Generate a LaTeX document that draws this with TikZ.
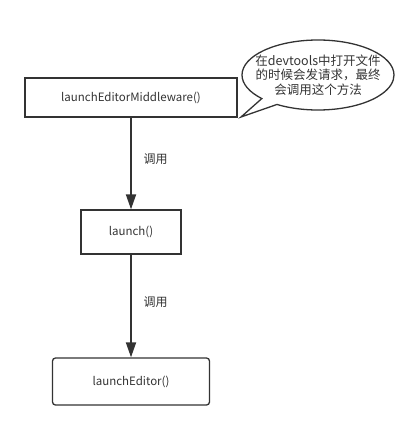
\documentclass[tikz,border=0pt]{standalone}
\usepackage{fontspec}
\setmainfont{Noto Sans CJK SC}
\usetikzlibrary{arrows.meta,shapes.callouts}
\definecolor{ink}{HTML}{333333}
\tikzset{
  box/.style={draw=ink, line width=1.3pt, text=ink, inner sep=0pt, font=\fontsize{11.5}{14}\selectfont},
  call/.style={draw=ink, line width=1.8pt, -{Triangle[length=15pt,width=10pt]}},
  calltext/.style={text=ink, font=\fontsize{12}{14}\selectfont}
}
\begin{document}
\begin{tikzpicture}[x=1pt,y=1pt]
  \useasboundingbox (0,0) rectangle (418,-430);
  \node [box, minimum width=212pt, minimum height=39pt] (middleware) at (131,-97.5) {launchEditorMiddleware()};
  \node [box, minimum width=100pt, minimum height=44pt] (launch) at (131,-232) {launch()};
  \node [box, rounded corners=3pt, minimum width=157pt, minimum height=47pt] (editor) at (131,-381.5) {launchEditor()};
  \coordinate (tip) at (241,-117);
  \node [ellipse callout, draw=ink, line width=1.3pt, text=ink, align=center, inner xsep=-13pt, inner ysep=2pt,
         minimum width=152pt, minimum height=70pt, callout absolute pointer={(tip)},
         font=\fontsize{12.5}{14.5}\selectfont] (note) at (318,-75)
         {在devtools中打开文件\\的时候会发请求，最终\\会调用这个方法};
  \draw [call] (middleware) -- (launch);
  \draw [call] (launch) -- (editor);
  \node [calltext] (call1) at (155.5,-159) {调用};
  \node [calltext] (call2) at (155.5,-302) {调用};
\end{tikzpicture}
\end{document}
